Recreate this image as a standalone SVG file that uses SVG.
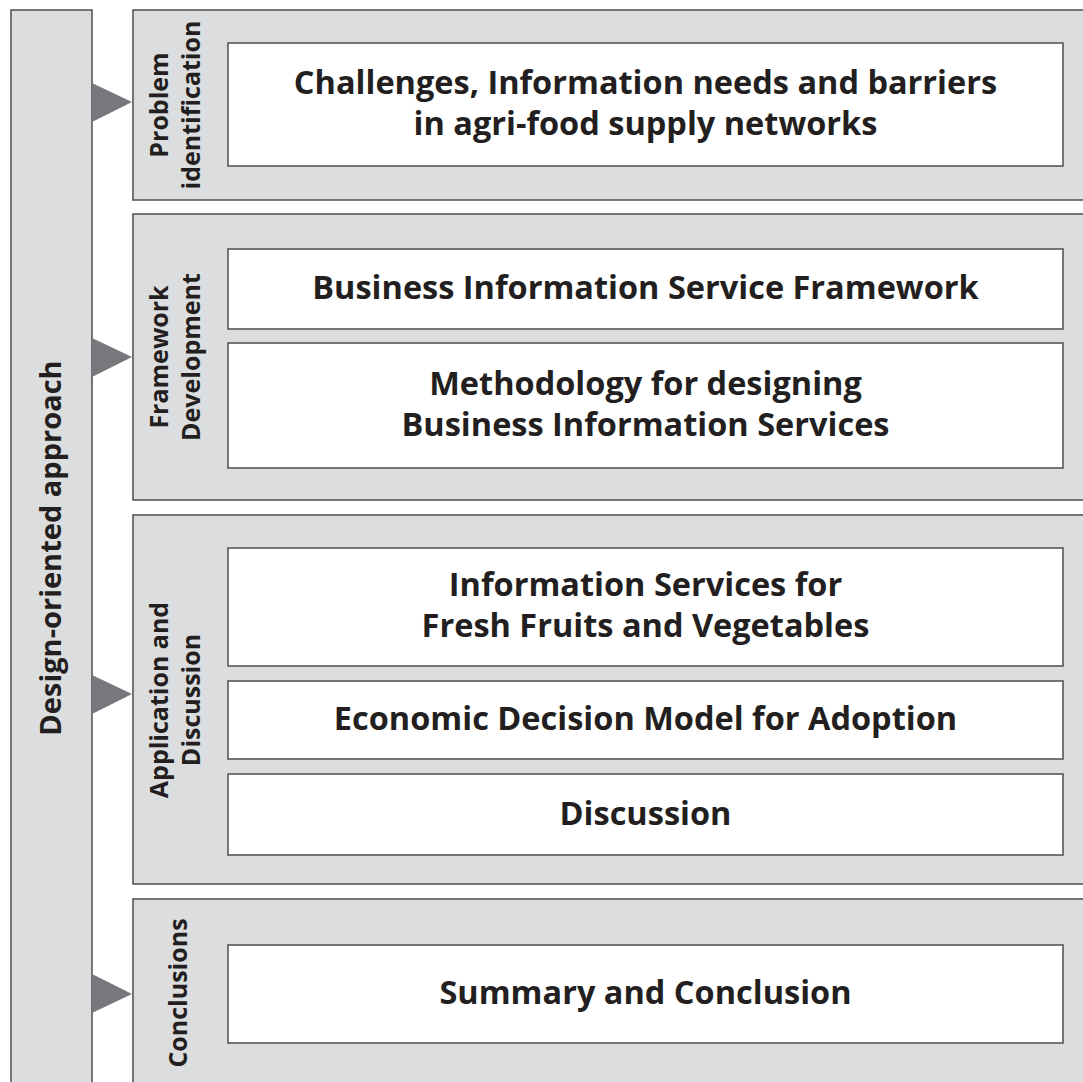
<svg xmlns="http://www.w3.org/2000/svg" width="1083" height="1082" viewBox="0 0 1083 1082">
<style>
.bar{fill:#dcdddf;stroke:#4d4d4f;stroke-width:1.5}
.box{fill:#ffffff;stroke:#4d4d4f;stroke-width:1.5}
.arr{fill:#77787b;stroke:none}
.t{font-family:"Open Sans","Noto Sans","DejaVu Sans",sans-serif;font-weight:700;fill:#231f20;text-anchor:middle}
.h{font-size:32.5px}
.v{font-size:25px}
.big{font-size:29px}
</style>
<rect width="1083" height="1082" fill="#ffffff"/>
<g id="design-approach">
<rect class="bar" x="11" y="10" width="81" height="1090"/>
<text class="t big" transform="translate(61,548) rotate(-90)">Design-oriented approach</text>
</g>
<g id="problem-identification">
<rect class="bar" x="133" y="10" width="970" height="190"/>
<text class="t v" transform="translate(168,105) rotate(-90)"><tspan x="0" y="0">Problem</tspan><tspan x="0" y="32">identification</tspan></text>
</g>
<g id="challenges">
<rect class="box" x="228" y="43" width="835" height="123"/>
<text class="t h"><tspan x="645.5" y="94">Challenges, Information needs and barriers</tspan><tspan x="645.5" y="135">in agri-food supply networks</tspan></text>
</g>
<g id="framework-development">
<rect class="bar" x="133" y="214" width="970" height="286"/>
<text class="t v" transform="translate(168,357) rotate(-90)"><tspan x="0" y="0">Framework</tspan><tspan x="0" y="32">Development</tspan></text>
</g>
<g id="bis-framework">
<rect class="box" x="228" y="249" width="835" height="80"/>
<text class="t h" x="645.5" y="299">Business Information Service Framework</text>
</g>
<g id="methodology">
<rect class="box" x="228" y="343" width="835" height="125"/>
<text class="t h"><tspan x="645.5" y="395">Methodology for designing</tspan><tspan x="645.5" y="436">Business Information Services</tspan></text>
</g>
<g id="application-discussion">
<rect class="bar" x="133" y="515" width="970" height="369"/>
<text class="t v" transform="translate(168,700) rotate(-90)"><tspan x="0" y="0">Application and</tspan><tspan x="0" y="32">Discussion</tspan></text>
</g>
<g id="information-services">
<rect class="box" x="228" y="548" width="835" height="118"/>
<text class="t h"><tspan x="645.5" y="596">Information Services for</tspan><tspan x="645.5" y="637">Fresh Fruits and Vegetables</tspan></text>
</g>
<g id="economic-model">
<rect class="box" x="228" y="681" width="835" height="78"/>
<text class="t h" x="645.5" y="730">Economic Decision Model for Adoption</text>
</g>
<g id="discussion">
<rect class="box" x="228" y="774" width="835" height="81"/>
<text class="t h" x="645.5" y="825">Discussion</text>
</g>
<g id="conclusions">
<rect class="bar" x="133" y="899" width="970" height="200"/>
<text class="t v" transform="translate(187,993) rotate(-90)">Conclusions</text>
</g>
<g id="summary">
<rect class="box" x="228" y="945" width="835" height="98"/>
<text class="t h" x="645.5" y="1004">Summary and Conclusion</text>
</g>
<g id="connectors">
<polygon class="arr" points="92,83 132,102 92,122"/>
<polygon class="arr" points="92,338 132,357 92,377"/>
<polygon class="arr" points="92,675 132,694 92,714"/>
<polygon class="arr" points="92,974 132,994 92,1013"/>
</g>
</svg>
